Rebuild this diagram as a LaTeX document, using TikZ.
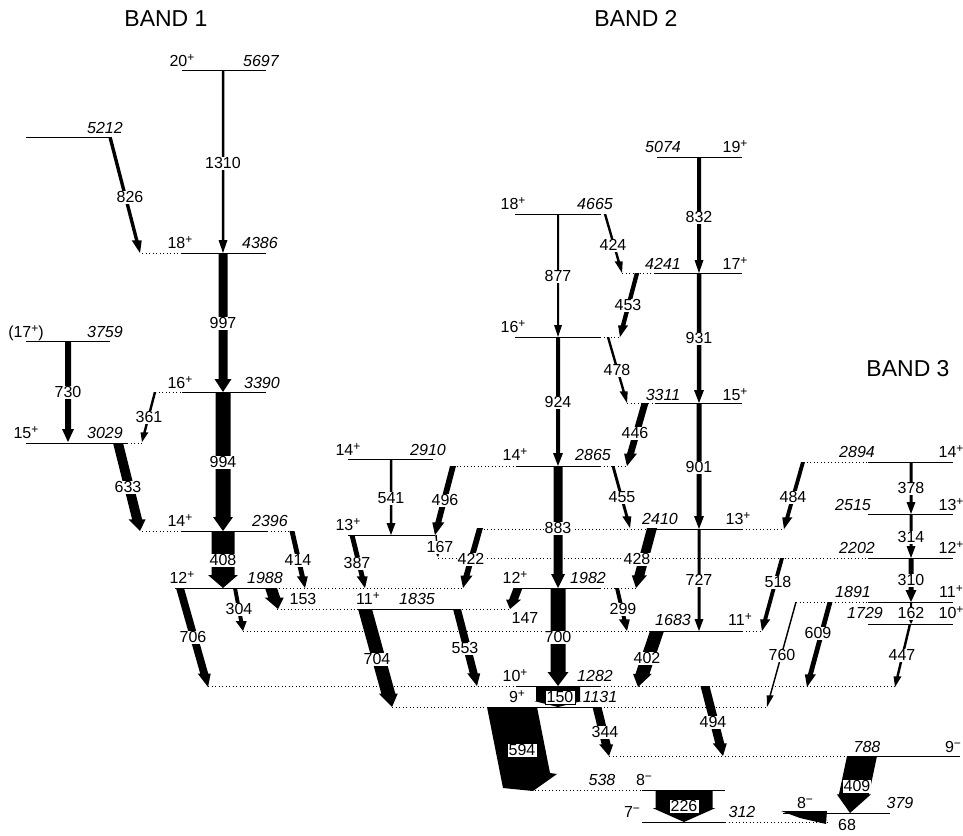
\documentclass[tikz,border=0pt]{standalone}
\usepackage{fontspec}
\setmainfont{Liberation Sans}
\usetikzlibrary{calc}
\pgfdeclarelayer{fg}
\pgfsetlayers{main,fg}
\newcommand{\lvfont}{\fontsize{16}{19}\selectfont}
\newcommand{\bandfont}{\fontsize{23}{27}\selectfont}
\tikzset{
  lev/.style={line width=0.9pt},
  ext/.style={line width=0.9pt, dash pattern=on 1.2pt off 2.3pt},
  spin/.style={anchor=base, yshift=-5.8pt, inner sep=0pt, font=\lvfont},
  en/.style={spin, font=\lvfont\itshape},
  glab/.style={anchor=base, yshift=-5.8pt, fill=white, inner sep=1pt, font=\lvfont},
  gbox/.style={glab, draw, line width=0.8pt, inner sep=1.6pt},
  band/.style={anchor=base, yshift=-8.5pt, font=\bandfont},
}
% level: y, x from, x to
\newcommand{\lvl}[3]{\draw[lev] (#2,#1) -- (#3,#1);}
\newcommand{\dlv}[3]{\draw[ext] (#2,#1) -- (#3,#1);}
% transition: [label style] from, to, body width, head width, head length, energy, label position
\newcommand{\gam}[8][glab]{%
  \path (#2) coordinate (gs) (#3) coordinate (ge);
  \path ($(ge)!#6pt!(gs)$) coordinate (gh);
  \fill ($(gs)+(-0.5*#4,0)$) -- ($(gh)+(-0.5*#4,0)$) -- ($(gh)+(-0.5*#5,0)$)
    -- (ge) -- ($(gh)+(0.5*#5,0)$) -- ($(gh)+(0.5*#4,0)$) -- ($(gs)+(0.5*#4,0)$) -- cycle;
  \begin{pgfonlayer}{fg}\node[#1] (g#7) at (#8) {#7};\end{pgfonlayer}}
\newcommand{\pl}{\raisebox{0.62ex}{\fontsize{12}{12}\selectfont +}}
\newcommand{\mi}{\raisebox{0.62ex}{\fontsize{12}{12}\selectfont −}}
\begin{document}
\begin{tikzpicture}[x=1pt,y=-1pt]
\useasboundingbox (0,0) rectangle (963,835);

% band titles
\node[band] (b1) at (166,18) {BAND 1};
\node[band] (b2) at (636,18) {BAND 2};
\node[band] (b3) at (908,368) {BAND 3};

% band 1 levels
\lvl{70}{182}{266}
\lvl{137}{26}{110}
\lvl{253}{182}{266} \dlv{253}{142}{182}
\lvl{341}{26}{110}
\lvl{392}{182}{266} \dlv{392}{155}{182}
\lvl{443}{26}{127} \dlv{443}{127}{143}
\lvl{531}{182}{267} \dlv{531}{142}{182} \dlv{531}{267}{292}
\lvl{588}{175}{265} \dlv{588}{265}{463}
\lvl{609}{357}{455} \dlv{609}{277}{357} \dlv{609}{455}{510}
\dlv{631}{243}{657}
\lvl{535}{348}{435}
\lvl{459}{348}{433}
% band 2 levels
\lvl{214}{515}{600} \dlv{214}{600}{606}
\lvl{337}{515}{600} \dlv{337}{600}{620}
\lvl{466}{517}{600} \dlv{466}{453}{517} \dlv{466}{600}{627}
\lvl{588}{517}{600} \dlv{588}{600}{636}
\lvl{686}{517}{600} \dlv{686}{208}{517} \dlv{686}{600}{895}
\lvl{707}{517}{600} \dlv{707}{392}{517} \dlv{707}{600}{767}
\lvl{157}{657}{742}
\lvl{273}{655}{742} \dlv{273}{622}{655}
\lvl{403}{655}{742} \dlv{403}{627}{655}
\lvl{529}{655}{742} \dlv{529}{480}{655} \dlv{529}{742}{784}
\lvl{631}{657}{742} \dlv{631}{742}{762}
% band 3 levels
\lvl{462}{868}{953} \dlv{462}{803}{868}
\lvl{514}{868}{953}
\lvl{558}{868}{953} \dlv{558}{438}{868}
\lvl{602}{868}{953} \dlv{602}{796}{868}
\lvl{624}{868}{953}
% negative parity levels
\lvl{756}{853}{960} \dlv{756}{609}{853}
\lvl{790}{642}{725} \dlv{790}{531}{642}
\lvl{813}{783}{890}
\lvl{822}{642}{725} \dlv{822}{725}{827}

% spins and energies
\begin{pgfonlayer}{fg}
\node[spin] (s20) at (182,61) {20\pl};   \node[en] (e5697) at (261,61) {5697};
\node[en] (e5212) at (105,128) {5212};
\node[spin] (s18a) at (180,243) {18\pl}; \node[en] (e4386) at (260,243) {4386};
\node[spin] (s17a) at (26,332) {(17\pl)}; \node[en] (e3759) at (105,332) {3759};
\node[spin] (s16a) at (180,383) {16\pl}; \node[en] (e3390) at (262,383) {3390};
\node[spin] (s15a) at (26,433) {15\pl};  \node[en] (e3029) at (105,433) {3029};
\node[spin] (s14a) at (180,521) {14\pl}; \node[en] (e2396) at (270,521) {2396};
\node[spin] (s12a) at (182,578) {12\pl}; \node[en] (e1988) at (265,578) {1988};
\node[spin] (s11a) at (368,599) {11\pl}; \node[en] (e1835) at (417,599) {1835};
\node[spin] (s13a) at (348,525) {13\pl};
\node[spin] (s14b) at (348,450) {14\pl}; \node[en] (e2910) at (428,450) {2910};
\node[spin] (s14c) at (515,455) {14\pl}; \node[en] (e2865) at (593,455) {2865};
\node[spin] (s18b) at (513,204) {18\pl}; \node[en] (e4665) at (595,204) {4665};
\node[spin] (s16b) at (513,327) {16\pl};
\node[en] (e4241) at (663,264) {4241};   \node[spin] (s17b) at (735,264) {17\pl};
\node[en] (e3311) at (663,395) {3311};   \node[spin] (s15b) at (735,395) {15\pl};
\node[en] (e5074) at (663,147) {5074};   \node[spin] (s19) at (735,147) {19\pl};
\node[en] (e2410) at (660,519) {2410};   \node[spin] (s13b) at (738,519) {13\pl};
\node[spin] (s12b) at (515,578) {12\pl}; \node[en] (e1982) at (588,578) {1982};
\node[en] (e1683) at (673,620) {1683};   \node[spin] (s11b) at (740,620) {11\pl};
\node[spin] (s10a) at (515,676) {10\pl}; \node[en] (e1282) at (595,676) {1282};
\node[spin] (s9a) at (517,697) {9\pl};   \node[en] (e1131) at (600,697) {1131};
\node[en] (e2894) at (857,452) {2894};   \node[spin] (s14d) at (951,452) {14\pl};
\node[en] (e2515) at (853,505) {2515};   \node[spin] (s13c) at (951,505) {13\pl};
\node[en] (e2202) at (857,548) {2202};   \node[spin] (s12c) at (951,548) {12\pl};
\node[en] (e1891) at (853,592) {1891};   \node[spin] (s11c) at (951,592) {11\pl};
\node[en] (e1729) at (865,613) {1729};   \node[spin] (s10b) at (951,613) {10\pl};
\node[en] (e788) at (867,747) {788};     \node[spin] (s9b) at (953,747) {9\mi};
\node[en] (e538) at (602,780) {538};     \node[spin] (s8a) at (644,780) {8\mi};
\node[spin] (s8b) at (805,803) {8\mi};   \node[en] (e379) at (900,803) {379};
\node[spin] (s7) at (632,812) {7\mi};    \node[en] (e312) at (742,812) {312};
\end{pgfonlayer}

% band 1 transitions
\gam{223,70}{223,253}{2.5}{9}{13}{1310}{223,163}
\gam{110,137}{140,253}{3.5}{10}{13}{826}{130,197}
\gam{223,253}{223,392}{9}{17}{13}{997}{223,323}
\gam{68,341}{68,442}{6}{12}{13}{730}{68,392}
\gam{155,392}{142,442}{2.5}{8}{10}{361}{149,417}
\gam{223,392}{223,531}{15}{20}{14}{994}{223,462}
\gam{118,443}{140,531}{10}{17}{12}{633}{128,487}
\gam{223,531}{223,588}{23}{30}{13}{408}{223,560}
\gam{292,531}{305,588}{5}{11}{12}{414}{298,560}
\gam{235,588}{243,631}{4}{11}{10}{304}{239,609}
\gam{271,588}{278,609}{12}{19}{12}{153}{303,599}
\gam{180,588}{208,687}{8}{13}{14}{706}{193,637}
\gam{365,609}{392,707}{14}{19}{14}{704}{377,659}
\gam{352,535}{365,588}{5}{11}{12}{387}{357,563}
\gam{391,459}{391,535}{2.5}{9}{12}{541}{391,498}
\gam{453,466}{435,535}{6}{12}{13}{496}{445,500}
\gam{436,535}{438,557}{1.5}{5}{5}{167}{440,547}
\gam{480,528}{463,588}{6}{12}{13}{422}{471,559}
% band 2 transitions
\gam{558,214}{558,337}{2}{8}{12}{877}{558,276}
\gam{558,337}{558,466}{4}{10}{13}{924}{558,402}
\gam{558,466}{558,588}{9}{14}{14}{883}{558,528}
\gam{558,588}{558,686}{15}{21}{14}{700}{558,637}
\gam{605,214}{622,273}{2.5}{8}{12}{424}{613,245}
\gam{637,273}{620,337}{4.5}{10}{12}{453}{628,305}
\gam{608,337}{627,403}{2.5}{8}{12}{478}{617,370}
\gam{645,403}{627,466}{7}{13}{13}{446}{635,433}
\gam{613,466}{630,528}{3}{9}{12}{455}{622,497}
\gam{652,528}{636,588}{10}{15}{13}{428}{637,559}
\gam{699,157}{699,273}{4}{9}{13}{832}{699,217}
\gam{699,273}{699,403}{4.5}{10}{13}{931}{699,338}
\gam{699,403}{699,529}{5}{10}{13}{901}{699,467}
\gam{699,529}{699,631}{3}{9}{12}{727}{699,580}
\gam{518,588}{510,609}{9}{15}{10}{147}{525,618}
\gam{617,588}{627,631}{4}{11}{12}{299}{623,609}
\gam{457,609}{477,686}{8}{13}{13}{553}{465,648}
\gam{657,631}{638,687}{14}{19}{14}{402}{647,658}
\gam[gbox]{558,686}{558,707}{44}{48}{6}{150}{560,697}
\gam{597,707}{609,756}{9}{14}{12}{344}{605,732}
\gam{705,686}{723,756}{9}{14}{13}{494}{713,722}
% band 3 transitions
\gam{803,462}{784,529}{4}{10}{12}{484}{793,497}
\gam{911,462}{911,514}{3}{9}{12}{378}{911,488}
\gam{911,514}{911,558}{3}{9}{12}{314}{911,537}
\gam{911,558}{911,602}{5}{11}{12}{310}{911,580}
\gam{911,602}{911,624}{2}{7}{7}{162}{911,613}
\gam{910,624}{895,687}{2.5}{8}{11}{447}{902,655}
\gam{830,602}{807,687}{5}{11}{13}{609}{818,633}
\gam{796,602}{767,707}{1.5}{7}{12}{760}{782,655}
\gam{782,558}{762,631}{4}{10}{12}{518}{778,582}
% negative parity transitions
\fill (487,707) -- (537,707) -- (550,773) -- (557,774) -- (533,791) -- (503,788) -- cycle;
\begin{pgfonlayer}{fg}\node[gbox] (g594) at (522,750) {594};\end{pgfonlayer}
\gam{862,756}{850,813}{30}{34}{19}{409}{857,786}
\gam[gbox]{684,790}{684,822}{57}{63}{14}{226}{684,806}
\fill (781,811) -- (827,811) -- (826,824) -- (800,818) -- cycle;
\begin{pgfonlayer}{fg}\node[glab] (g68) at (847,825) {68};\end{pgfonlayer}
\end{tikzpicture}
\end{document}
